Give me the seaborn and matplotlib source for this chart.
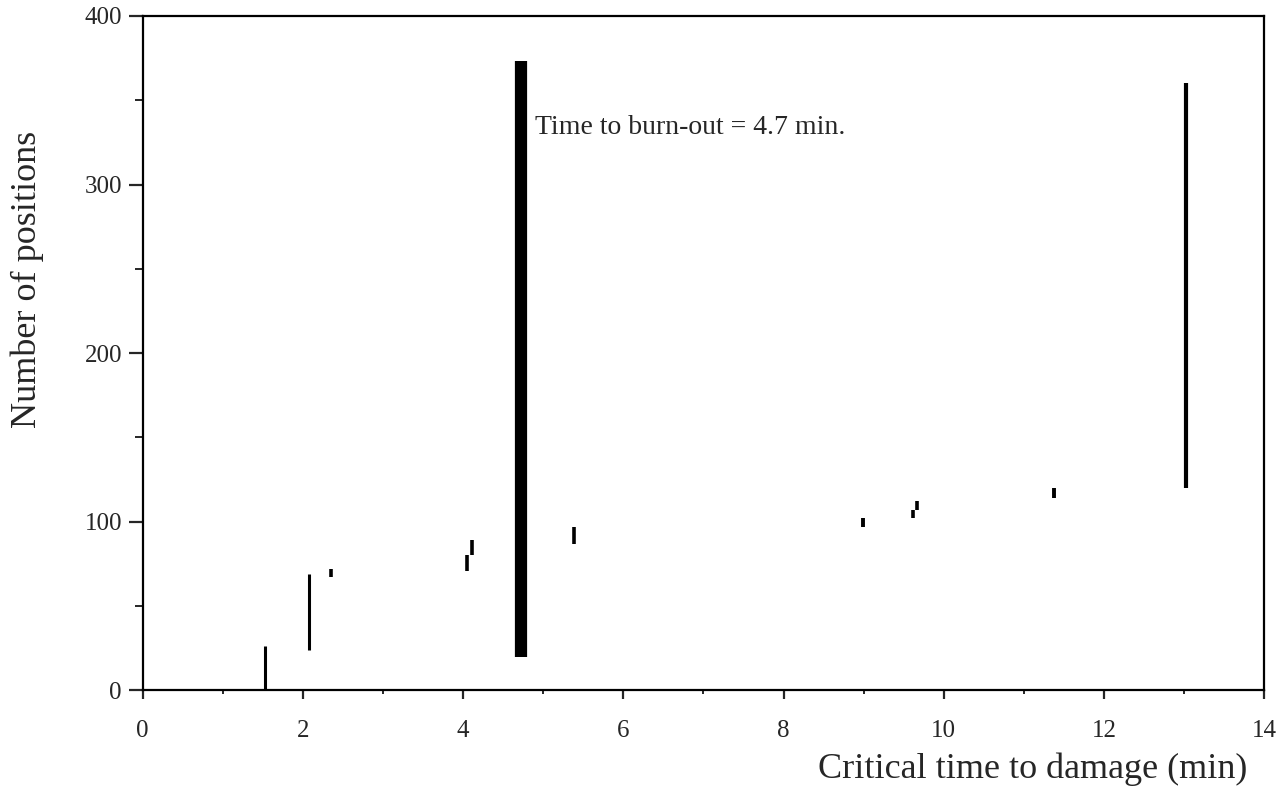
import seaborn as sns
import matplotlib.pyplot as plt
import pandas as pd
from matplotlib.ticker import MultipleLocator

# segments: x position, lower and upper count
seg_x = [1.53, 2.07, 2.35, 4.05, 4.11, 5.39, 8.99, 9.62, 9.67, 11.38, 13.03]
seg_lo = [0, 24, 67, 71, 80, 87, 97, 102, 107, 114, 120]
seg_hi = [26, 69, 72, 80, 89, 97, 102, 107, 112, 120, 360]
seg_w = [2.2, 2.2, 2.6, 2.6, 2.6, 2.6, 2.8, 2.6, 2.6, 2.8, 3.0]

bar_x = [4.72]
bar_lo = [20]
bar_hi = [373]

note = "Time to burn-out = 4.7 min."

sns.set_style("ticks")
plt.rcParams['font.family'] = ['Liberation Serif', 'DejaVu Serif']

rows = []
for i, (x, lo, hi, w) in enumerate(zip(seg_x, seg_lo, seg_hi, seg_w)):
    rows.append({'seg': i, 'x': x, 'y': lo, 'w': w})
    rows.append({'seg': i, 'x': x, 'y': hi, 'w': w})
segs = pd.DataFrame(rows)

bars = pd.DataFrame({'seg': [0, 0], 'x': bar_x * 2, 'y': [bar_lo[0], bar_hi[0]]})

fig = plt.figure(figsize=(12.86, 7.98), dpi=100)
ax = fig.add_axes([0.111, 0.135, 0.872, 0.845])

for w, grp in segs.groupby('w'):
    sns.lineplot(data=grp, x='x', y='y', units='seg', estimator=None, sort=False,
                 color='black', linewidth=w, solid_capstyle='butt', ax=ax, legend=False)
sns.lineplot(data=bars, x='x', y='y', units='seg', estimator=None, sort=False,
             color='black', linewidth=8.8, solid_capstyle='butt', ax=ax, legend=False)

ax.text(4.9, 334, note, ha='left', va='center', fontsize=20)

ax.set_xlim(0, 14)
ax.set_ylim(0, 400)
ax.xaxis.set_major_locator(MultipleLocator(2))
ax.xaxis.set_minor_locator(MultipleLocator(1))
ax.yaxis.set_major_locator(MultipleLocator(100))
ax.yaxis.set_minor_locator(MultipleLocator(50))

for sp in ax.spines.values():
    sp.set_visible(True)
    sp.set_linewidth(1.6)
    sp.set_color('black')

ax.tick_params(axis='x', which='major', direction='out', length=6.5, width=1.6, pad=15, labelsize=18)
ax.tick_params(axis='x', which='minor', direction='out', length=3, width=1.4)
ax.tick_params(axis='y', which='major', direction='out', length=10, width=1.6, pad=5, labelsize=18)
ax.tick_params(axis='y', which='minor', direction='out', length=6, width=1.4)

ax.set_xlabel("Critical time to damage (min)", fontsize=26)
ax.set_ylabel("Number of positions", fontsize=26)
ax.xaxis.set_label_coords(0.985, -0.092)
ax.xaxis.label.set_ha('right')
ax.yaxis.set_label_coords(-0.088, 0.61)

fig.savefig("out.png", dpi=100)
